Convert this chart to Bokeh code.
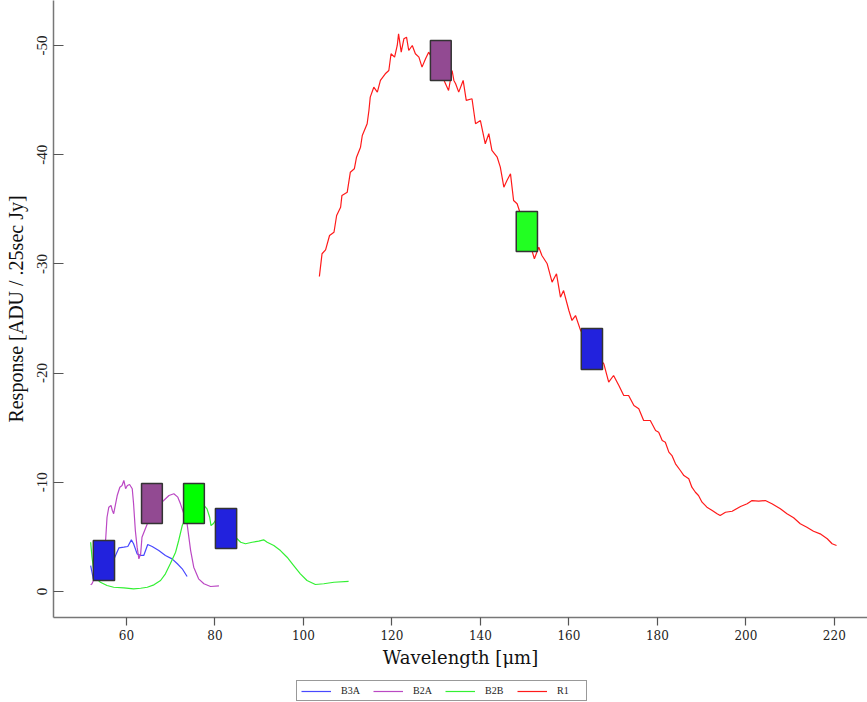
from bokeh.plotting import figure
from bokeh.layouts import column
from bokeh.models import Range1d, FixedTicker, Legend, LegendItem, ColumnDataSource
from bokeh.embed import file_html
from bokeh.resources import INLINE

# ---------------- data ----------------
b3a_wl = [51.9, 52.5, 55.0, 57.3, 58.3, 59.4, 60.3, 61.1, 61.6, 62.4, 63.2, 63.9, 64.8,
          65.8, 67.3, 68.8, 70.3, 71.5, 72.6, 73.7]
b3a_resp = [-2.38, -1.16, -2.5, -3.09, -4.00, -4.06, -4.12, -4.73, -4.37, -3.45, -3.30, -3.30,
            -4.30, -4.12, -3.75, -3.30, -2.99, -2.54, -2.08, -1.37]

b2a_wl = [51.9, 52.2, 54.6, 55.3, 55.6, 56.0, 56.5, 56.8, 57.1, 57.9, 58.5, 59.0, 59.4, 59.8,
          60.2, 60.7, 61.3, 61.6, 62.0, 62.4, 62.8, 63.2, 63.5, 65.9, 68.4, 69.6, 70.7, 71.6,
          72.2, 73.1, 73.7, 74.5, 75.2, 76.3, 77.5, 79.0, 80.9]
b2a_resp = [-0.61, -0.71, -2.84, -4.83, -6.80, -7.72, -7.88, -7.42, -7.12, -8.79, -9.55, -9.71,
            -10.17, -9.41, -9.71, -9.80, -9.41, -8.03, -5.59, -4.06, -2.99, -3.45, -4.97, -7.42,
            -8.33, -8.79, -8.95, -8.64, -8.03, -6.96, -6.20, -3.75, -2.23, -1.16, -0.71, -0.46,
            -0.52]

b2b_wl = [51.9, 52.2, 52.6, 53.2, 54.1, 55.6, 57.1, 59.4, 61.6, 63.2, 64.7, 66.2, 67.7, 68.8,
          69.9, 71.1, 71.8, 72.6, 75.1, 77.5, 78.2, 78.8, 79.1, 79.6, 80.1, 82.4, 85.0, 85.8,
          86.9, 88.4, 89.9, 91.0, 91.8, 93.3, 94.8, 96.3, 97.8, 99.3, 100.8, 102.7, 104.6,
          106.9, 110.2]
b2b_resp = [-4.51, -3.14, -1.92, -1.19, -0.85, -0.55, -0.39, -0.34, -0.25, -0.30, -0.39, -0.61,
            -1.01, -1.62, -2.54, -3.60, -4.67, -6.04, -8.33, -7.88, -7.57, -6.80, -6.04, -6.20,
            -6.50, -5.59, -4.83, -4.51, -4.37, -4.51, -4.61, -4.73, -4.51, -4.21, -3.75, -3.14,
            -2.38, -1.62, -1.01, -0.64, -0.71, -0.85, -0.92]

r1_wl = [103.6, 104.2, 105.0, 105.9, 106.9, 107.5, 108.4, 108.7, 109.9, 110.6, 111.5, 112.0,
         112.9, 113.3, 114.4, 114.8, 115.1, 115.9, 116.7, 117.4, 118.5, 119.3, 119.8, 120.6,
         121.2, 121.5, 122.1, 122.7, 123.3, 123.8, 124.6, 125.3, 126.1, 126.8, 127.6, 128.3,
         131.0, 132.8, 133.6, 134.0, 134.4, 135.1, 136.1, 136.8, 138.1, 138.9, 140.0, 141.1,
         141.9, 142.6, 143.8, 144.5, 145.3, 146.0, 146.8, 147.5, 148.3, 150.5, 152.2, 153.2,
         153.9, 155.1, 156.2, 157.2, 158.1, 158.8, 160.0, 160.7, 161.5, 162.6, 165.2, 167.9,
         169.0, 170.1, 171.3, 172.4, 173.5, 174.7, 175.8, 176.9, 178.4, 179.6, 180.3, 181.1,
         181.8, 182.6, 183.3, 184.1, 185.2, 186.0, 187.1, 187.8, 188.6, 189.3, 190.1, 191.2,
         192.4, 193.5, 194.2, 195.4, 196.9, 198.8, 200.3, 201.4, 202.9, 204.4, 205.9, 207.8,
         209.3, 210.8, 212.3, 213.8, 215.3, 216.8, 218.4, 219.5, 220.5]
r1_resp = [-28.85, -30.93, -31.29, -32.60, -32.90, -34.43, -35.19, -36.27, -36.57, -38.40,
           -38.71, -39.77, -40.69, -41.76, -42.83, -44.05, -45.27, -46.18, -45.73, -46.80,
           -47.41, -47.71, -49.24, -48.93, -50.00, -51.07, -49.39, -50.61, -50.76, -49.54,
           -50.00, -49.24, -48.93, -48.02, -48.78, -49.39, -47.50, -45.88, -47.71, -46.80,
           -46.49, -45.73, -46.80, -44.97, -45.12, -42.83, -43.13, -41.00, -41.92, -40.39,
           -39.77, -38.86, -37.03, -37.64, -38.25, -35.81, -35.51, -32.80, -30.47, -31.53,
           -30.77, -30.01, -28.33, -29.09, -26.95, -27.56, -25.73, -24.82, -25.27, -23.96,
           -22.20, -20.85, -19.17, -19.78, -18.86, -17.95, -17.95, -17.03, -16.73, -15.66,
           -15.66, -14.74, -14.59, -13.83, -13.67, -12.76, -12.45, -11.69, -11.08, -10.62,
           -10.32, -9.55, -9.09, -8.79, -8.18, -7.72, -7.42, -7.12, -6.96, -7.26, -7.35,
           -7.78, -8.03, -8.33, -8.27, -8.33, -8.03, -7.57, -7.12, -6.75, -6.20, -5.89,
           -5.52, -5.28, -4.83, -4.37, -4.21]

# filter boxes
box_left = [52.5, 63.4, 72.9, 80.1, 128.7, 148.1, 162.8]
box_right = [57.3, 68.1, 77.6, 84.9, 133.4, 152.9, 167.6]
box_low = [-1.00, -6.23, -6.23, -3.94, -46.80, -31.14, -20.33]
box_high = [-4.67, -9.89, -9.89, -7.60, -50.46, -34.80, -24.08]
box_color = ["#2222dd", "#924a92", "#00ff00", "#2222dd", "#924a92", "#22ff22", "#2222dd"]

x_ticks = [60, 80, 100, 120, 140, 160, 180, 200, 220]
y_ticks = [-50, -40, -30, -20, -10, 0]
y_tick_labels = ["-50", "-40", "-30", "-20", "-10", "0"]

series_names = ["B3A", "B2A", "B2B", "R1"]
series_colors = ["#4848ff", "#bb48c4", "#33f033", "#ff1a1a"]

# ---------------- main figure ----------------
p = figure(frame_width=814, frame_height=617, output_backend="svg", toolbar_location=None,
           x_range=Range1d(43.5, 227.5), y_range=Range1d(2.38, -54.12),
           min_border_left=53, min_border_right=0, min_border_top=0, min_border_bottom=61)
p.grid.visible = False
p.outline_line_color = None

for wl, resp, col in zip([b3a_wl, b2a_wl, b2b_wl, r1_wl],
                         [b3a_resp, b2a_resp, b2b_resp, r1_resp], series_colors):
    p.line(wl, resp, line_color=col, line_width=1.2)

src = ColumnDataSource(dict(left=box_left, right=box_right, bottom=box_low, top=box_high,
                            color=box_color))
p.quad(left="left", right="right", bottom="bottom", top="top", fill_color="color",
       line_color="#333333", line_width=1.5, source=src)

p.xaxis.ticker = FixedTicker(ticks=x_ticks)
p.yaxis.ticker = FixedTicker(ticks=y_ticks)
p.yaxis.major_label_overrides = {t: s for t, s in zip(y_ticks, y_tick_labels)}
for ax in (p.xaxis[0], p.yaxis[0]):
    ax.axis_line_color = "#777777"
    ax.axis_line_width = 1.5
    ax.major_tick_line_color = "#555555"
    ax.major_tick_line_width = 1.2
    ax.minor_tick_line_color = None
    ax.major_label_text_color = "#222222"
    ax.axis_label_text_color = "#111111"
    ax.axis_label_text_font_style = "normal"

p.xaxis.major_tick_in = 0
p.xaxis.major_tick_out = 8
p.xaxis.major_label_text_font = "DejaVu Serif"
p.xaxis.major_label_text_font_size = "12px"
p.xaxis.major_label_standoff = 4
p.xaxis.axis_label = "Wavelength [μm]"
p.xaxis.axis_label_text_font = "DejaVu Serif"
p.xaxis.axis_label_text_font_size = "18px"
p.xaxis.axis_label_standoff = 4

p.yaxis.major_tick_in = 10
p.yaxis.major_tick_out = 0
p.yaxis.major_label_orientation = "vertical"
p.yaxis.major_label_text_font = "Liberation Serif"
p.yaxis.major_label_text_font_size = "15px"
p.yaxis.major_label_standoff = 6
p.yaxis.axis_label = "Response [ADU / .25sec Jy]"
p.yaxis.axis_label_text_font = "Liberation Serif"
p.yaxis.axis_label_text_font_size = "20px"
p.yaxis.axis_label_standoff = 8

# ---------------- legend strip ----------------
lf = figure(width=867, height=24, output_backend="svg", toolbar_location=None,
            x_range=Range1d(0, 1), y_range=Range1d(0, 1), min_border=0)
lf.axis.visible = False
lf.grid.visible = False
lf.outline_line_color = None
items = []
for name, col in zip(series_names, series_colors):
    r = lf.line([float("nan")], [float("nan")], line_color=col, line_width=1.2)
    items.append(LegendItem(label=name, renderers=[r]))
legend = Legend(items=items, orientation="horizontal", location=(243, 1),
                border_line_color="#333333", border_line_width=1,
                label_text_font="Liberation Serif", label_text_font_size="10px",
                label_text_color="#222222",
                glyph_width=30, glyph_height=10, label_height=10, label_width=25,
                padding=4, margin=0, spacing=7, label_standoff=10)
lf.add_layout(legend, "center")

open("out.html", "w").write(file_html(column(p, lf, spacing=0), INLINE))
